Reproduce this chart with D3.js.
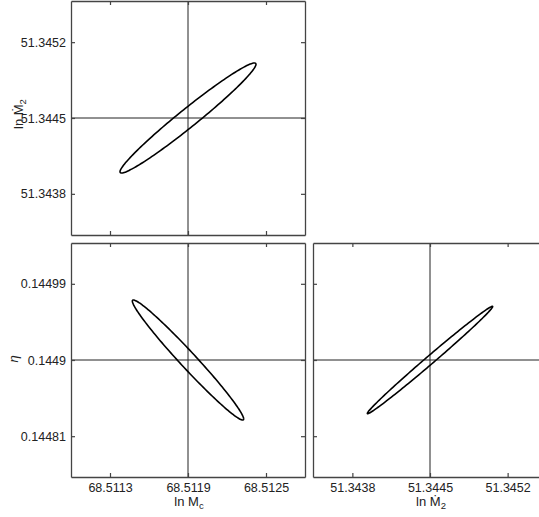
<!DOCTYPE html>
<html><head><meta charset="utf-8">
<script src="https://cdn.jsdelivr.net/npm/d3@7"></script>
<style>
html,body{margin:0;padding:0;background:#fff;}
svg{display:block;font-family:"Liberation Sans",Arial,sans-serif;}
</style></head>
<body><svg id="c" width="539" height="517"></svg>
<script>
// Parameter centres (fiducial values)
const centers = { lnMc: 68.5119, lnM2: 51.3445, eta: 0.1449 };
// Axis half-ranges
const halfRanges = { lnMc: 0.0009, lnM2x: 0.001055, lnM2y: 0.00108, eta: 0.0001382 };
// Tick labels
const ticksLnMc = ["68.5113", "68.5119", "68.5125"];
const ticksLnM2 = ["51.3438", "51.3445", "51.3452"];
const ticksEta = ["0.14481", "0.1449", "0.14499"];
// Error ellipse parameters: [x half-extent, y half-extent, correlation]
const ellipseTL = [0.000523, 0.000508, 0.977];   // lnMc vs lnM2
const ellipseBL = [0.000428, 0.0000709, -0.981]; // lnMc vs eta
const ellipseBR = [0.000565, 0.0000634, 0.995];  // lnM2 vs eta

const svg = d3.select("#c");
const S = 234;

function panel(x0, y0, xc, xh, yc, yh, xt, yt, ell, showXLabels, showYLabels, xlab, ylab) {
  const x = d3.scaleLinear().domain([xc - xh, xc + xh]).range([x0, x0 + S]);
  const y = d3.scaleLinear().domain([yc - yh, yc + yh]).range([y0 + S, y0]);
  const g = svg.append("g");
  const clipId = "clip" + x0 + "_" + y0;
  g.append("clipPath").attr("id", clipId).append("rect")
    .attr("x", x0).attr("y", y0).attr("width", S).attr("height", S);
  const inner = g.append("g").attr("clip-path", `url(#${clipId})`);
  // crosshair
  inner.append("line").attr("x1", x(xc)).attr("x2", x(xc)).attr("y1", y0).attr("y2", y0 + S)
    .attr("stroke", "#222").attr("stroke-width", 1);
  inner.append("line").attr("x1", x0).attr("x2", x0 + S).attr("y1", y(yc)).attr("y2", y(yc))
    .attr("stroke", "#222").attr("stroke-width", 1);
  // ellipse
  const [ax, ay, rho] = ell;
  const ts = d3.range(0, 361, 2).map(d => d * Math.PI / 180);
  const pts = ts.map(t => [xc + ax * Math.cos(t), yc + ay * (rho * Math.cos(t) + Math.sqrt(1 - rho * rho) * Math.sin(t))]);
  inner.append("path").attr("d", d3.line().x(d => x(d[0])).y(d => y(d[1])).curve(d3.curveCardinalClosed)(pts))
    .attr("fill", "none").attr("stroke", "#000").attr("stroke-width", 1.6);
  // axes (inward ticks)
  const xv = xt.map(Number), yv = yt.map(Number);
  const ax1 = g.append("g").attr("transform", `translate(0,${y0 + S})`)
    .call(d3.axisBottom(x).tickValues(xv).tickSizeInner(-4).tickSizeOuter(0).tickFormat((d, i) => showXLabels ? xt[i] : ""));
  const ax2 = g.append("g").attr("transform", `translate(0,${y0})`)
    .call(d3.axisTop(x).tickValues(xv).tickSizeInner(-4).tickSizeOuter(0).tickFormat(""));
  const ay1 = g.append("g").attr("transform", `translate(${x0},0)`)
    .call(d3.axisLeft(y).tickValues(yv).tickSizeInner(-4).tickSizeOuter(0).tickFormat((d, i) => showYLabels ? yt[i] : ""));
  const ay2 = g.append("g").attr("transform", `translate(${x0 + S},0)`)
    .call(d3.axisRight(y).tickValues(yv).tickSizeInner(-4).tickSizeOuter(0).tickFormat(""));
  [ax1, ax2, ay1, ay2].forEach(a => {
    a.select(".domain").attr("stroke", "#444").attr("stroke-width", 1.3);
    a.selectAll(".tick line").attr("stroke", "#444").attr("stroke-width", 1.2);
    a.selectAll("text").attr("font-size", 12.5).attr("fill", "#222")
      .attr("font-family", '"Liberation Sans", Arial, sans-serif');
  });
  ax1.selectAll("text").attr("dy", "0.71em").attr("y", 6);
  ay1.selectAll("text").attr("x", -5);
  if (xlab) {
    const t = g.append("text").attr("x", x0 + S / 2 + 1).attr("y", y0 + S + 29)
      .attr("text-anchor", "middle").attr("font-size", 13).attr("fill", "#222");
    xlab(t);
  }
  if (ylab) {
    const t = g.append("text").attr("transform", `translate(${x0 - ylab.dx},${y0 + S / 2 - ylab.dy}) rotate(-90)`)
      .attr("text-anchor", "middle").attr("font-size", 13).attr("fill", "#222");
    ylab(t);
  }
}

const labM2 = t => { t.append("tspan").text("ln Ṁ"); t.append("tspan").attr("font-size", 9.5).attr("dy", 3).text("2"); };
const labMc = t => { t.append("tspan").text("ln M"); t.append("tspan").attr("font-size", 9.5).attr("dy", 3).text("c"); };
const labEta = t => { t.append("tspan").attr("font-style", "italic").text("η"); };
labM2.dx = 48; labM2.dy = 4;
labEta.dx = 53; labEta.dy = 1;

panel(71, 1, centers.lnMc, halfRanges.lnMc, centers.lnM2, halfRanges.lnM2y, ticksLnMc, ticksLnM2, ellipseTL, false, true, null, labM2);
panel(71, 243, centers.lnMc, halfRanges.lnMc, centers.eta, halfRanges.eta, ticksLnMc, ticksEta, ellipseBL, true, true, labMc, labEta);
panel(313, 243, centers.lnM2, halfRanges.lnM2x, centers.eta, halfRanges.eta, ticksLnM2, ticksEta, ellipseBR, true, false, labM2, null);
</script></body></html>
